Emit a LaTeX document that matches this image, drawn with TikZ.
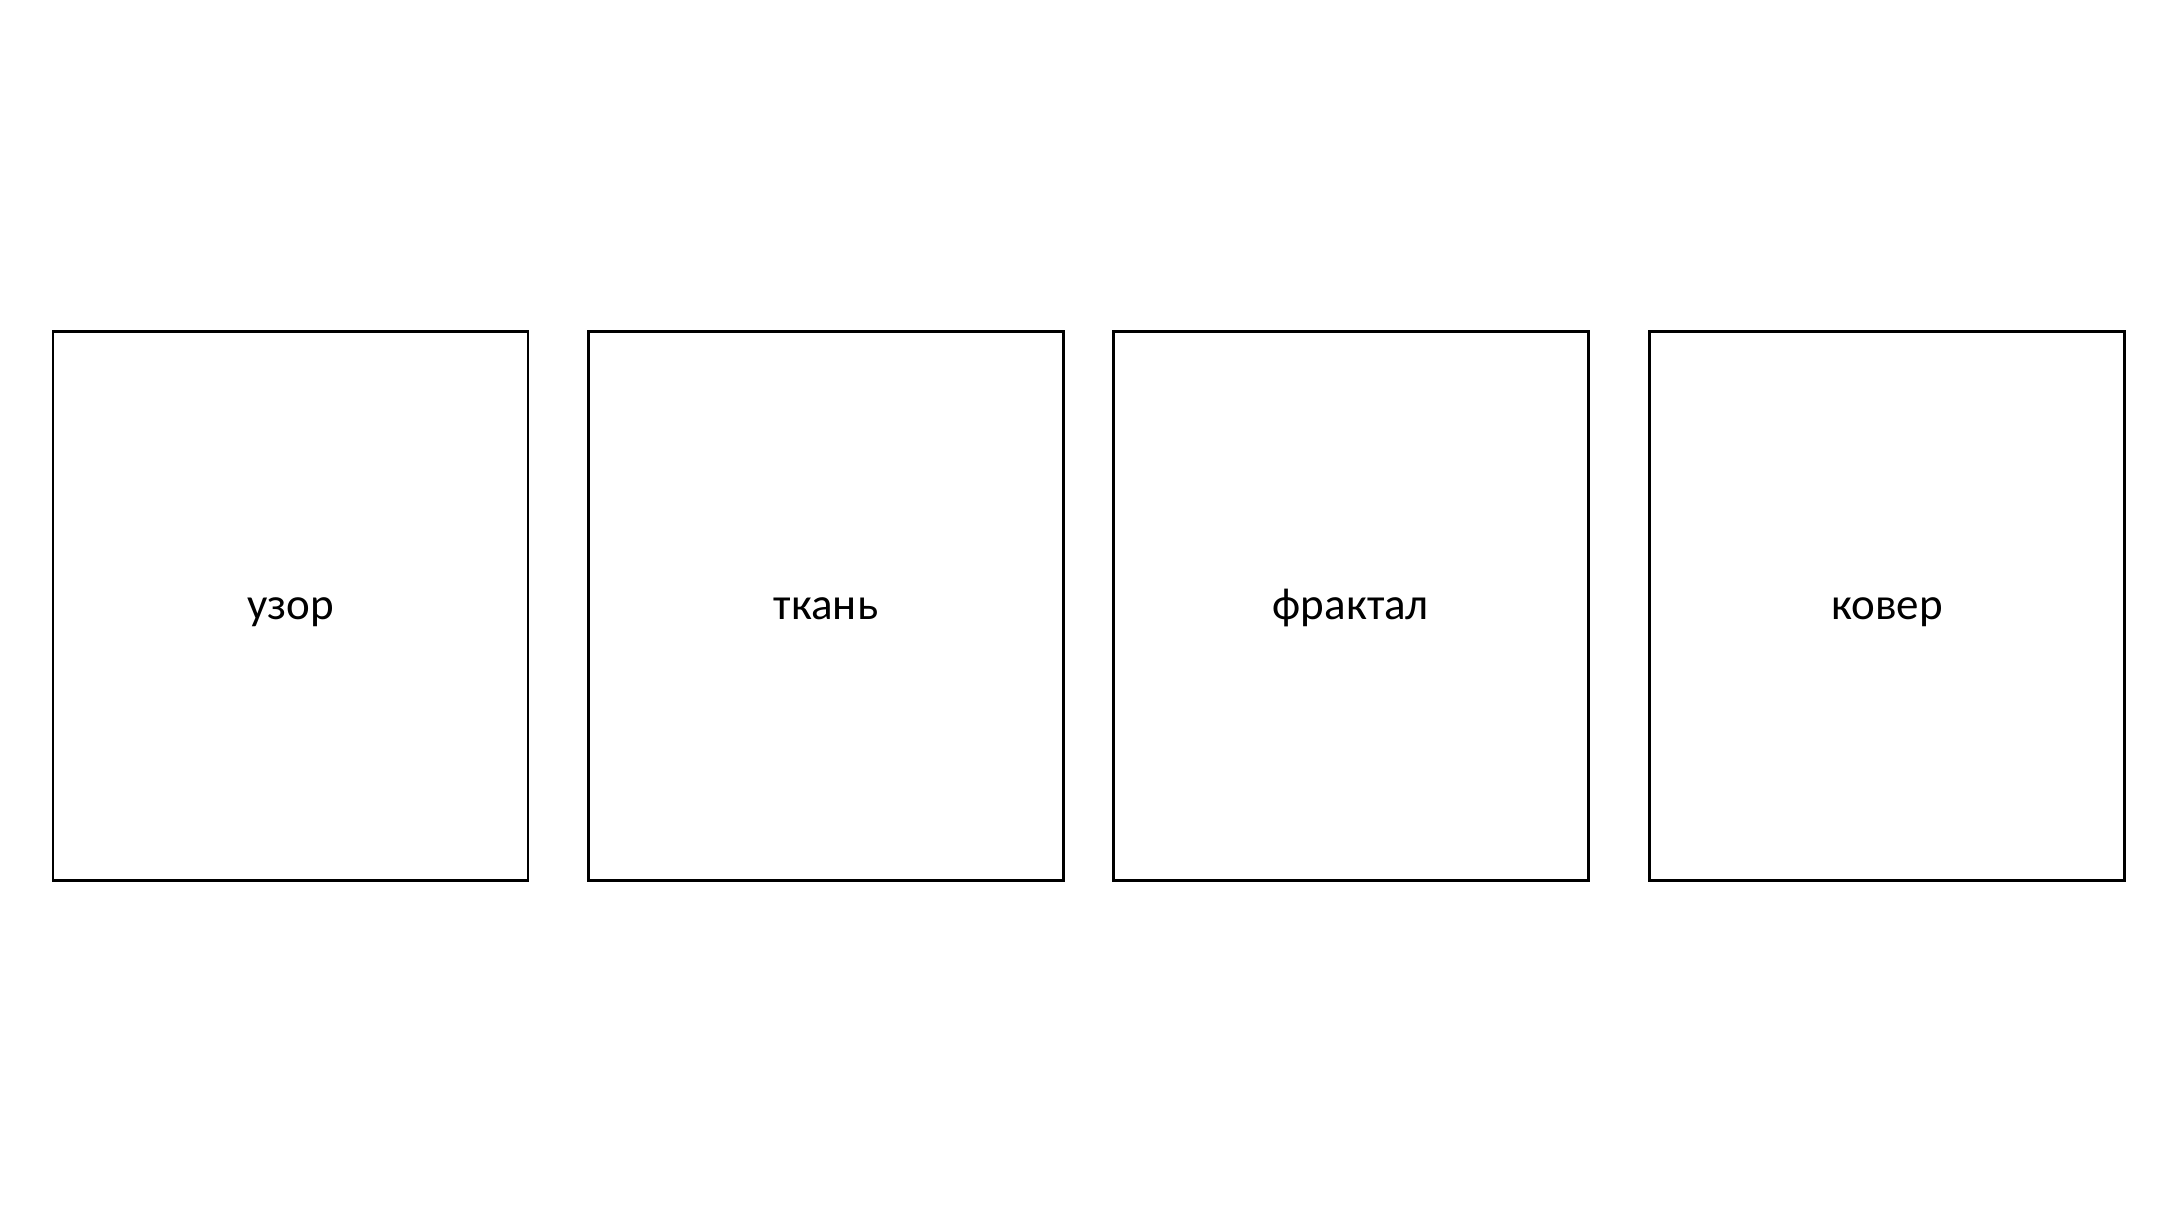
\documentclass[tikz,border=0pt]{standalone}
\usepackage{fontspec}
\setmainfont{Carlito}
\begin{document}
\begin{tikzpicture}[x=0.5pt,y=-0.5pt,
  card/.style={draw=black,line width=1.4pt,minimum width=237.5pt,minimum height=274.5pt,inner sep=0pt,anchor=north west},
  lbl/.style={inner sep=0pt,anchor=base,font=\fontsize{22.5}{27}\selectfont}]
\useasboundingbox (0,0) rectangle (2176,1222);
\node[card] (a) at (51.5,330) {};
\node[card] (b) at (587,330) {};
\node[card] (c) at (1112,330) {};
\node[card] (d) at (1648,330) {};
\path (a.center) ++(0,13.5) node[lbl] (ta) {узор};
\path (b.center) ++(0,13.5) node[lbl] (tb) {ткань};
\path (c.center) ++(0,13.5) node[lbl] (tc) {фрактал};
\path (d.center) ++(0,13.5) node[lbl] (td) {ковер};
\end{tikzpicture}
\end{document}
